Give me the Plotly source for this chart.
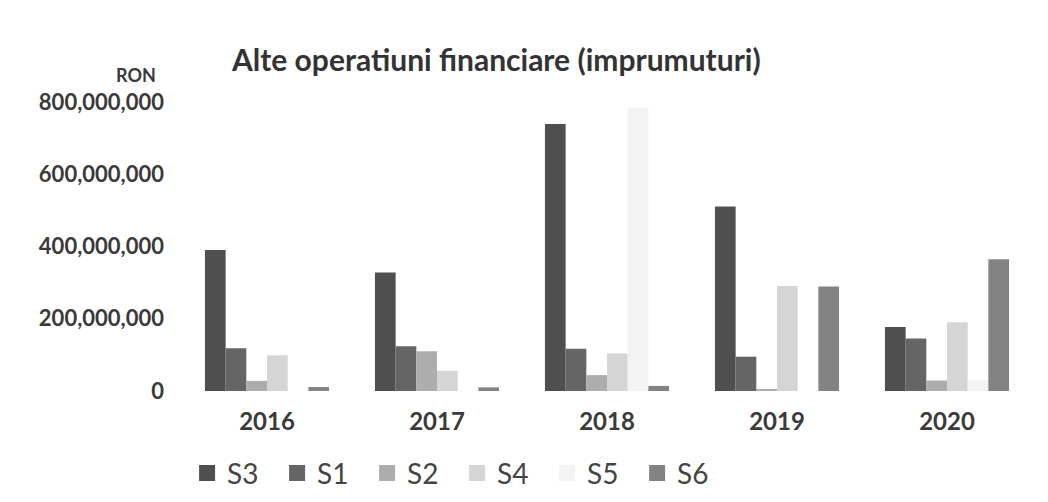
import plotly.graph_objects as go

# values (RON)
years = ["2016", "2017", "2018", "2019", "2020"]
series_names = ["S3", "S1", "S2", "S4", "S5", "S6"]
s3 = [390e6, 328e6, 739e6, 511e6, 177e6]
s1 = [118e6, 124e6, 117e6, 95e6, 145e6]
s2 = [28e6, 110e6, 44e6, 3e6, 29e6]
s4 = [99e6, 56e6, 104e6, 291e6, 190e6]
s5 = [0, 0, 784e6, 0, 30e6]
s6 = [11e6, 10e6, 14e6, 289e6, 365e6]
y_ticks = [0, 200e6, 400e6, 600e6, 800e6]
y_tick_text = ["0", "200,000,000", "400,000,000", "600,000,000", "800,000,000"]

series_values = [s3, s1, s2, s4, s5, s6]
colors = ["#4f4f4f", "#656565", "#adadad", "#d5d5d5", "#f3f3f3", "#838383"]

FONT = "Lato"

fig = go.Figure()
for name, vals, col in zip(series_names, series_values, colors):
    fig.add_trace(go.Bar(
        x=years, y=vals, name=name, legendgroup=name, showlegend=False,
        marker=dict(color=col, line=dict(width=0)),
    ))
# legend entries with bigger squares, like the Excel legend
for name, col in zip(series_names, colors):
    fig.add_trace(go.Scatter(
        x=[None], y=[None], mode="markers", name=name, legendgroup=name,
        marker=dict(symbol="square", size=16, color=col),
    ))

fig.update_layout(
    width=1048, height=502,
    margin=dict(l=174, r=24, t=94, b=115),
    paper_bgcolor="white", plot_bgcolor="white",
    barmode="group", bargap=0.27, bargroupgap=0,
    font=dict(family=FONT, color="#3a3a3a"),
    title=dict(
        text="<b>Alte operatiuni financiare (imprumuturi)</b>",
        x=0.466, xanchor="center", y=0.895, yanchor="middle",
        font=dict(family=FONT, size=30, color="#333333"),
    ),
    showlegend=True,
    legend=dict(
        orientation="h", x=0.006, xanchor="left", y=-0.285, yanchor="middle",
        font=dict(family=FONT, size=28, color="#444444"),
        entrywidth=45, traceorder="normal", itemsizing="trace",
    ),
)

fig.update_xaxes(
    type="category", showgrid=False, showline=False, zeroline=False,
    ticks="", ticklabelstandoff=14,
    tickfont=dict(family=FONT, size=24, color="#3a3a3a", weight="bold"),
)
fig.update_yaxes(
    range=[0, 800e6], tickvals=y_ticks, ticktext=y_tick_text,
    showgrid=False, zeroline=False, showline=False, ticks="",
    ticklabelstandoff=17,
    tickfont=dict(family=FONT, size=22, color="#3a3a3a", weight="bold"),
)

fig.add_annotation(
    text="<b>RON</b>", xref="paper", yref="paper",
    x=-0.054, y=1.095, xanchor="center", yanchor="middle",
    showarrow=False, font=dict(family=FONT, size=18, color="#3a3a3a"),
)

fig.write_html("out.html")
